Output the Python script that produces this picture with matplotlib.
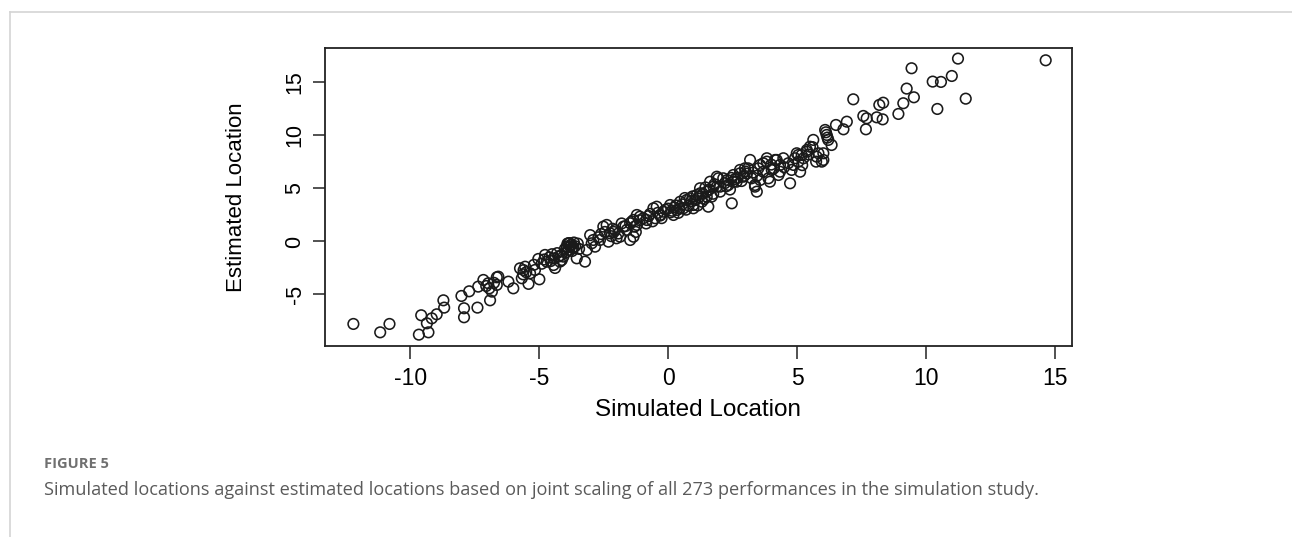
import matplotlib
matplotlib.use("Agg")
import matplotlib.pyplot as plt
from matplotlib.lines import Line2D

# simulated (x) vs estimated (y) locations, grouped along the band
sim_location = [
    # lower tail
    -12.2, -11.16, -10.8, -9.66, -9.29, -9.57, -9.35, -9.16, -8.97, -8.68,
    -8.71, -7.91, -7.91, -8.01, -7.71, -7.39, -7.36, -7.16, -6.93, -6.9,
    -6.97, -6.83, -6.64, -6.64, -7.05, -6.75, -6.58, -6.19, -6.0, -5.74,
    -5.67, -5.54, -5.41, -5.35, -5.6, -5.5, -5.62,
    # -5 .. -3.5
    -5.16, -4.99, -5.03, -4.77, -4.7, -4.44, -4.25, -4.12, -3.93, -3.86,
    -4.8, -4.9, -4.6, -4.5, -4.3, -4.44, -4.19, -4.38, -4.06, -3.8,
    -3.75, -3.7, -3.85, -3.65, -3.9, -3.6, -3.72, -4.0, -3.95, -3.54,
    -3.22, -3.5, -3.45, -5.2,
    # -3.5 .. -1
    -3.02, -2.96, -3.15, -2.83, -2.64, -2.9, -2.51, -2.38, -2.25, -2.05,
    -2.31, -1.86, -1.73, -1.47, -1.34, -1.21, -1.47, -2.15, -2.45, -2.7,
    -2.2, -1.6, -1.3, -1.1, -1.25, -1.8, -2.0, -1.41, -1.09, -1.34,
    -1.21, -1.93,
    # -1 .. 2
    -0.96, -0.83, -0.57, -0.5, -0.44, -0.31, -0.18, 0.08, 0.0, 0.21,
    0.34, 0.47, 0.59, 0.72, 0.85, 0.98, 0.98, 1.11, 1.24, 1.31,
    1.5, 1.5, 1.56, 1.63, 1.69, 1.89, 1.89, 1.95, -0.7, -0.6,
    -0.25, -0.1, 0.15, 0.3, 0.4, 0.55, 0.65, 0.8, 0.9, 1.05,
    1.2, 1.15, 1.35, 1.4, 1.6, 1.75, -0.85, -0.4, 0.25, 0.7,
    # 2 .. 5
    2.02, 2.02, 1.76, 2.14, 2.34, 2.53, 2.53, 2.66, 2.79, 2.79,
    2.92, 2.98, 2.47, 3.18, 3.24, 3.37, 3.44, 3.37, 3.57, 3.57,
    3.69, 3.69, 3.83, 3.83, 3.89, 3.95, 4.02, 4.15, 4.21, 4.28,
    4.34, 4.34, 4.47, 4.66, 4.79, 4.73, 4.86, 4.92, 5.05, 5.05,
    2.2, 2.4, 2.6, 2.7, 2.85, 3.05, 3.1, 3.3, 2.3, 3.45,
    4.1, 4.5, 3.0,
    # 5 .. 7
    5.12, 5.18, 5.38, 5.5, 5.63, 5.74, 5.83, 6.02, 6.09, 6.15,
    6.21, 6.34, 6.51, 6.8, 6.93, 5.38, 5.25, 4.99, 5.76, 5.96,
    6.02, 6.12, 6.18, 5.2, 5.45, 5.6,
    # upper tail
    7.18, 7.57, 7.67, 7.7, 8.09, 8.19, 8.34, 8.32, 8.93, 9.12,
    9.25, 9.44, 9.53, 10.26, 10.44, 10.58, 11.0, 11.24, 11.54, 14.64,
    # extra points hidden in the dense band
    -3.78, -3.68, -3.82, -4.15, -4.55, -2.6, -2.1, -1.65, -0.75, -0.3,
    0.1, 0.45, 0.95, 1.25, 1.45, 1.8, 2.25, 2.45, 2.95, 3.5, 4.0,
]

est_location = [
    -7.78, -8.57, -7.78, -8.79, -8.57, -6.96, -7.72, -7.25, -6.87, -6.24,
    -5.55, -6.3, -7.15, -5.14, -4.7, -6.24, -4.26, -3.63, -4.42, -5.55,
    -3.94, -4.73, -4.1, -3.38, -4.2, -3.9, -3.32, -3.79, -4.42, -2.53,
    -3.47, -2.38, -4.0, -3.0, -2.7, -2.9, -3.1,

    -2.69, -3.57, -1.65, -1.27, -1.91, -2.22, -1.43, -1.75, -0.49, -0.17,
    -1.7, -2.1, -1.5, -1.2, -1.1, -1.6, -1.9, -2.5, -1.43, -0.5,
    -0.3, -0.6, -0.8, -0.1, -0.2, -0.45, -0.9, -0.7, -1.0, -1.59,
    -1.9, -0.2, -0.7, -2.2,

    0.6, -0.17, -0.8, -0.49, 0.14, 0.14, 1.4, 1.56, 0.77, 1.08,
    -0.02, 0.45, 1.4, 1.72, 2.03, 2.5, 0.14, 1.2, 0.9, 0.4,
    0.5, 1.1, 1.4, 2.0, 0.9, 1.7, 0.3, 1.87, 2.34, 0.45,
    1.56, 0.75,

    2.19, 2.03, 3.13, 2.19, 3.28, 2.5, 2.81, 3.44, 3.1, 2.5,
    2.97, 3.75, 3.13, 3.92, 4.07, 3.13, 3.44, 4.38, 5.02, 3.75,
    4.7, 4.23, 3.28, 5.64, 4.23, 5.17, 6.11, 5.96, 2.6, 1.9,
    2.2, 3.0, 2.9, 3.4, 2.7, 3.5, 4.1, 3.4, 3.8, 3.9,
    4.2, 3.4, 4.5, 4.0, 4.9, 4.5, 1.7, 2.7, 3.2, 3.0,

    5.17, 4.7, 5.17, 5.96, 5.33, 6.27, 5.64, 5.64, 6.75, 6.43,
    6.11, 6.9, 3.6, 7.69, 5.96, 5.33, 4.7, 5.17, 5.8, 7.22,
    6.58, 7.38, 7.53, 7.85, 5.96, 5.64, 6.75, 7.69, 7.69, 6.27,
    7.22, 6.58, 7.85, 7.38, 6.75, 5.49, 7.22, 7.85, 7.53, 8.16,
    5.5, 4.9, 5.9, 6.0, 5.7, 6.4, 6.9, 6.5, 5.8, 6.2,
    6.9, 7.0, 6.6,

    6.58, 8.16, 8.63, 8.94, 9.58, 7.53, 8.32, 7.69, 10.52, 10.05,
    9.58, 9.1, 10.99, 10.58, 11.3, 8.47, 7.85, 8.32, 8.0, 7.53,
    8.32, 10.3, 9.8, 7.2, 8.2, 8.9,

    13.41, 11.84, 10.58, 11.62, 11.71, 12.88, 13.09, 11.52, 12.03, 13.04,
    14.42, 16.34, 13.6, 15.08, 12.5, 15.05, 15.61, 17.25, 13.47, 17.09,

    -0.35, -0.55, -0.15, -1.3, -1.85, 0.7, 0.9, 1.45, 2.4, 2.45,
    2.75, 3.1, 4.25, 4.55, 5.1, 5.4, 5.2, 6.0, 6.2, 6.9, 7.25,
]

x_ticks = [-10, -5, 0, 5, 10, 15]
y_ticks = [-5, 0, 5, 10, 15]

assert len(sim_location) == len(est_location)

W, H = 1292, 537
fig = plt.figure(figsize=(W / 100, H / 100), dpi=100)
fig.patch.set_facecolor("white")

# card border (clipped at the right and bottom)
border = "#d4d4d4"
fig.add_artist(Line2D([10 / W, 1.0], [1 - 11.5 / H] * 2, color=border, lw=1.2))
fig.add_artist(Line2D([10 / W] * 2, [1 - 11.5 / H, 0.0], color=border, lw=1.2))

ax = fig.add_axes([325 / W, 1 - 346 / H, (1072 - 325) / W, (346 - 48) / H])
ax.scatter(sim_location, est_location, s=58, facecolors="none",
           edgecolors="#1a1a1a", linewidths=1.15)

ax.set_xlim(-13.3, 15.66)
ax.set_ylim(-9.86, 18.25)
ax.set_xticks(x_ticks)
ax.set_yticks(y_ticks)
ax.set_xticklabels([str(t) for t in x_ticks], fontsize=16.5, family="Liberation Sans")
ax.set_yticklabels([str(t) for t in y_ticks], fontsize=15.5, family="Liberation Sans",
                   rotation=90, va="center")
ax.tick_params(length=9, width=1.1, color="#222222", direction="out")
ax.tick_params(axis="x", pad=6)
ax.tick_params(axis="y", pad=5)
for sp in ax.spines.values():
    sp.set_linewidth(1.3)
    sp.set_color("#222222")

fig.text(698 / W, 1 - 410 / H, "Simulated Location", ha="center", va="center",
         fontsize=17.5, family="Liberation Sans")
fig.text(237 / W, 1 - 197 / H, "Estimated Location", ha="center", va="center",
         rotation=90, fontsize=16, family="Liberation Sans")

fig.text(44 / W, 1 - 464 / H, "FIGURE 5", ha="left", va="center", fontsize=10.5,
         weight="bold", color="#707070", family="Open Sans")
fig.text(44 / W, 1 - 490 / H,
         "Simulated locations against estimated locations based on joint scaling "
         "of all 273 performances in the simulation study.",
         ha="left", va="center", fontsize=13.1, color="#5a5a5a", family="Open Sans")

fig.savefig("out.png", dpi=100, facecolor="white")
